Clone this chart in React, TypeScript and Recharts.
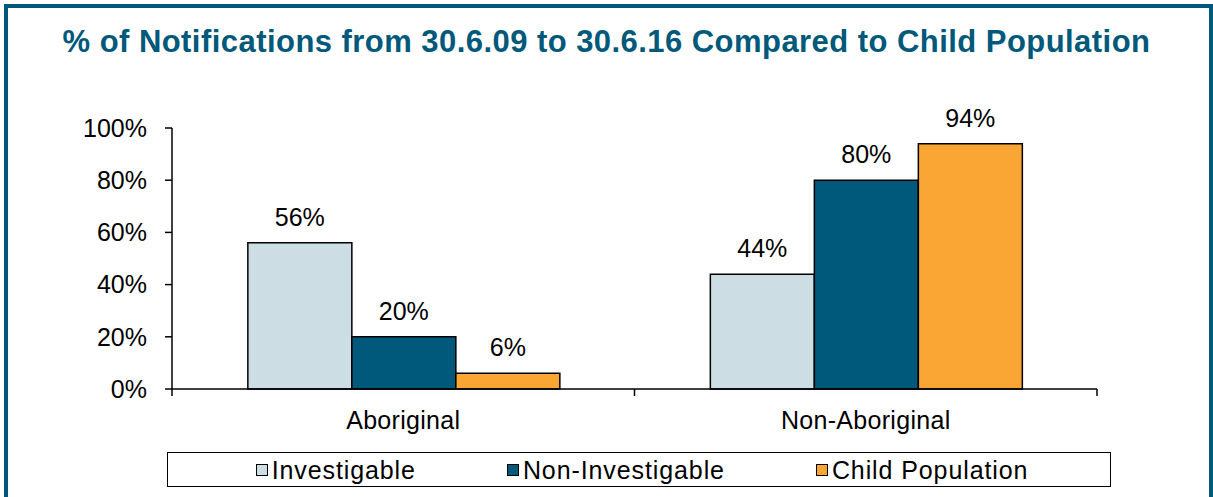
import React from "react";
import { BarChart, Bar, XAxis, YAxis, LabelList } from "recharts";

const categories = ["Aboriginal", "Non-Aboriginal"];
const investigable = [56, 44];
const nonInvestigable = [20, 80];
const childPopulation = [6, 94];
const yTicks = [0, 20, 40, 60, 80, 100];
const seriesNames = ["Investigable", "Non-Investigable", "Child Population"];
const seriesColors = ["#cddde4", "#00587a", "#f9a634"];

const data = categories.map((c, i) => ({
  name: c,
  investigable: investigable[i],
  nonInvestigable: nonInvestigable[i],
  childPopulation: childPopulation[i],
}));

const FONT = "'Liberation Sans', Arial, sans-serif";
const TICK_SIZE = 7;
const TICK_MARGIN = 15;

const CategoryTick = (props: any) => {
  const { x, y, payload, index, width, visibleTicksCount } = props;
  const off =
    payload && typeof payload.offset === "number" && payload.offset > 0
      ? payload.offset
      : width / (visibleTicksCount || categories.length) / 2;
  const y1 = y - TICK_MARGIN - TICK_SIZE;
  const y2 = y - TICK_MARGIN;
  return (
    <g>
      {index === 0 && (
        <line x1={x - off} x2={x - off} y1={y1} y2={y2} stroke="#000" strokeWidth={1.5} />
      )}
      <line x1={x + off} x2={x + off} y1={y1} y2={y2} stroke="#000" strokeWidth={1.5} />
      <text
        x={x}
        y={y}
        dy="0.71em"
        textAnchor="middle"
        fontSize={25}
        fontFamily={FONT}
        fill="#000"
        style={{ letterSpacing: "0.3px" }}
      >
        {payload.value}
      </text>
    </g>
  );
};

export default function App() {
  const keys = ["investigable", "nonInvestigable", "childPopulation"];
  return (
    <div
      style={{
        position: "absolute",
        left: 0,
        top: 0,
        width: 1213,
        height: 497,
        overflow: "hidden",
        background: "#fff",
        fontFamily: FONT,
      }}
    >
      <div
        style={{
          position: "absolute",
          left: 4,
          top: 4,
          width: 1209,
          height: 600,
          boxSizing: "border-box",
          border: "4.5px solid #00587a",
        }}
      />
      <div
        style={{
          position: "absolute",
          left: 0,
          width: 1213,
          top: 23,
          textAlign: "center",
          fontSize: 31,
          fontWeight: "bold",
          color: "#00587a",
          lineHeight: "38px",
          letterSpacing: "0.45px",
        }}
      >
        % of Notifications from 30.6.09 to 30.6.16 Compared to Child Population
      </div>
      <div style={{ position: "absolute", left: 0, top: 0 }}>
        <BarChart
          width={1213}
          height={497}
          data={data}
          margin={{ top: 128, right: 116, bottom: 48, left: 72 }}
          barCategoryGap="16.4%"
          barGap={0}
        >
          <XAxis
            dataKey="name"
            height={60}
            axisLine={{ stroke: "#000", strokeWidth: 1.5 }}
            tickLine={false}
            tickSize={TICK_SIZE}
            tickMargin={TICK_MARGIN}
            tick={<CategoryTick />}
            interval={0}
          />
          <YAxis
            width={100}
            domain={[0, 100]}
            ticks={yTicks}
            tickFormatter={(v: number) => `${v}%`}
            axisLine={{ stroke: "#000", strokeWidth: 1.5 }}
            tickLine={{ stroke: "#000", strokeWidth: 1.5 }}
            tickSize={7}
            tickMargin={18}
            tick={{ fill: "#000", fontSize: 25, fontFamily: FONT }}
            interval={0}
          />
          {keys.map((k, i) => (
            <Bar
              key={k}
              dataKey={k}
              name={seriesNames[i]}
              fill={seriesColors[i]}
              stroke="#000"
              strokeWidth={1.5}
              isAnimationActive={false}
            >
              <LabelList
                dataKey={k}
                position="top"
                offset={17}
                formatter={(v: any) => `${v}%`}
                fill="#000"
                fontSize={25}
                fontFamily={FONT}
              />
            </Bar>
          ))}
        </BarChart>
      </div>
      <div
        style={{
          position: "absolute",
          left: 167,
          top: 452,
          width: 944,
          height: 35,
          boxSizing: "border-box",
          border: "1.5px solid #000",
          display: "flex",
          justifyContent: "center",
          alignItems: "center",
          gap: 91,
          paddingLeft: 6,
        }}
      >
        {seriesNames.map((n, i) => (
          <div key={n} style={{ display: "flex", alignItems: "center" }}>
            <span
              style={{
                display: "inline-block",
                width: 12,
                height: 12,
                boxSizing: "border-box",
                border: "1.5px solid #000",
                background: seriesColors[i],
                marginRight: 4,
              }}
            />
            <span
              style={{
                fontSize: 25,
                color: "#000",
                lineHeight: "30px",
                letterSpacing: "0.9px",
              }}
            >
              {n}
            </span>
          </div>
        ))}
      </div>
    </div>
  );
}
